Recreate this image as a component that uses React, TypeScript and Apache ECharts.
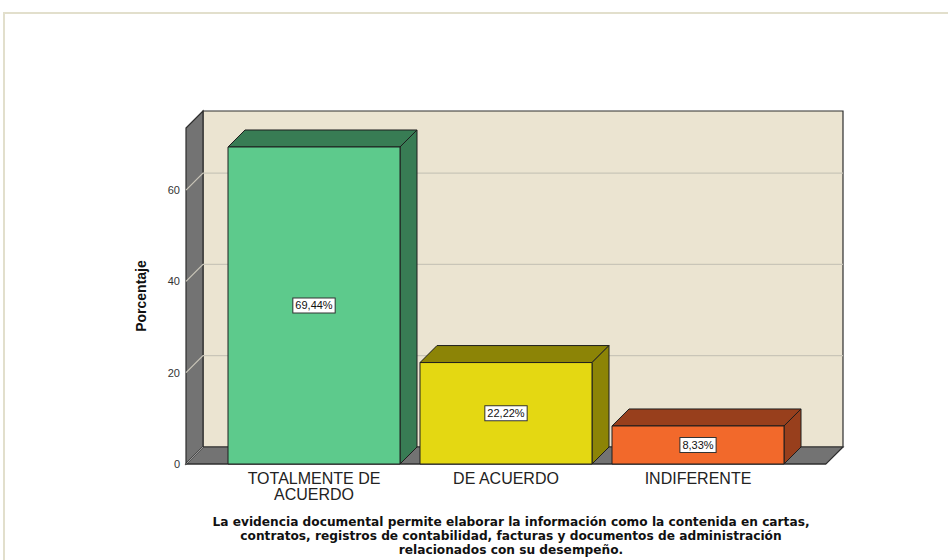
import React, { useEffect, useRef } from "react";
import * as echarts from "echarts";

const categories = ["TOTALMENTE DE\nACUERDO", "DE ACUERDO", "INDIFERENTE"];
const values = [69.44, 22.22, 8.33];
const frontColors = ["#5dca8c", "#e4d812", "#f2692b"];
const darkColors = ["#387c54", "#8c8406", "#983f1c"];
const yTicks = [0, 20, 40, 60];
const yMax = 73.6;
const titleText =
  "La evidencia documental permite elaborar la información como la contenida en cartas,\ncontratos, registros de contabilidad, facturas y documentos de administración\nrelacionados con su desempeño.";

const DEPTH = 17;
const EDGE = "#2e2e2e";

export default function App() {
  const ref = useRef<HTMLDivElement>(null);
  useEffect(() => {
    document.body.style.margin = "0";
    const chart = echarts.init(ref.current!, null, { renderer: "svg" });

    const wallsRender = (params: any, api: any) => {
      const band = api.size([1, 0])[0];
      const pad = band / 6;
      const c0 = api.coord([0, 0]);
      const c2 = api.coord([2, 0]);
      const lx = c0[0] - band / 2 - pad;
      const rx = c2[0] + band / 2 + pad;
      const y0 = c0[1];
      const yt = api.coord([0, yMax])[1];
      const d = DEPTH;
      const children: any[] = [];
      children.push({
        type: "polygon",
        shape: { points: [[lx + d, yt - d], [rx + d, yt - d], [rx + d, y0 - d], [lx + d, y0 - d]] },
        style: { fill: "#ebe4d1", stroke: EDGE, lineWidth: 1.2 },
      });
      children.push({
        type: "polygon",
        shape: { points: [[lx, yt], [lx + d, yt - d], [lx + d, y0 - d], [lx, y0]] },
        style: { fill: "#737373", stroke: EDGE, lineWidth: 1.2 },
      });
      children.push({
        type: "polygon",
        shape: { points: [[lx, y0], [lx + d, y0 - d], [rx + d, y0 - d], [rx, y0]] },
        style: { fill: "#737373", stroke: EDGE, lineWidth: 1.2 },
      });
      children.push({
        type: "line",
        shape: { x1: lx, y1: y0, x2: lx + d, y2: y0 - d },
        style: { stroke: "#9a9a9a", lineWidth: 1 },
      });
      yTicks.slice(1).forEach((t) => {
        const y = api.coord([0, t])[1];
        children.push({
          type: "polyline",
          shape: { points: [[lx, y], [lx + d, y - d], [rx + d, y - d]] },
          style: { stroke: "#c9c5b8", lineWidth: 1.2, fill: null },
        });
      });
      children.push({
        type: "line",
        shape: { x1: lx, y1: y0, x2: rx, y2: y0 },
        style: { stroke: EDGE, lineWidth: 1.2 },
      });
      return { type: "group", children };
    };

    const barRender = (params: any, api: any) => {
      const i = api.value(0);
      const v = api.value(1);
      const band = api.size([1, 0])[0];
      const w = (band * 172) / 192;
      const base = api.coord([i, 0]);
      const top = api.coord([i, v]);
      const x1 = base[0] - w / 2;
      const x2 = base[0] + w / 2;
      const y0 = base[1];
      const y1 = top[1];
      const d = DEPTH;
      const label = v.toFixed(2).replace(".", ",") + "%";
      return {
        type: "group",
        children: [
          {
            type: "polygon",
            shape: { points: [[x1, y1], [x1 + d, y1 - d], [x2 + d, y1 - d], [x2, y1]] },
            style: { fill: darkColors[i], stroke: "#1e1e1e", lineWidth: 1 },
          },
          {
            type: "polygon",
            shape: { points: [[x2, y1], [x2 + d, y1 - d], [x2 + d, y0 - d], [x2, y0]] },
            style: { fill: darkColors[i], stroke: "#1e1e1e", lineWidth: 1 },
          },
          {
            type: "rect",
            shape: { x: x1, y: y1, width: w, height: y0 - y1 },
            style: { fill: frontColors[i], stroke: "#1e1e1e", lineWidth: 1 },
          },
          {
            type: "text",
            x: base[0],
            y: (y0 + y1) / 2,
            style: {
              text: label,
              fill: "#111",
              font: "11px 'Liberation Sans', Arial, sans-serif",
              align: "center",
              verticalAlign: "middle",
              backgroundColor: "#ffffff",
              borderColor: "#333",
              borderWidth: 1,
              padding: [2, 2, 1, 2],
            },
          },
        ],
      };
    };

    chart.setOption({
      animation: false,
      backgroundColor: "#ffffff",
      textStyle: { fontFamily: "'Liberation Sans', Arial, sans-serif" },
      title: {
        text: titleText,
        left: 506,
        textAlign: "center",
        top: 510,
        textStyle: {
          fontSize: 12.2,
          fontWeight: "bold",
          color: "#111",
          lineHeight: 14,
          fontFamily: "'DejaVu Sans', sans-serif",
        },
      },
      graphic: [
        {
          type: "rect",
          shape: { x: 4, y: 13, width: 1000, height: 700 },
          style: { fill: null, stroke: "#e2dfcc", lineWidth: 2 },
          silent: true,
          z: -10,
        },
      ],
      grid: { left: 218, right: 154, top: 128, bottom: 96, containLabel: false },
      xAxis: {
        type: "category",
        data: categories,
        axisLine: { show: false },
        axisTick: { show: false },
        axisLabel: {
          interval: 0,
          fontSize: 16,
          color: "#222",
          lineHeight: 16,
          margin: 6,
        },
      },
      yAxis: {
        type: "value",
        min: 0,
        max: yMax,
        interval: 20,
        name: "Porcentaje",
        nameLocation: "middle",
        nameRotate: 90,
        nameGap: 70,
        nameTextStyle: { fontSize: 14, fontWeight: "bold", color: "#111" },
        axisLine: { show: false },
        axisTick: { show: false },
        splitLine: { show: false },
        axisLabel: { fontSize: 11, color: "#333", margin: 38, showMaxLabel: false },
      },
      series: [
        {
          type: "custom",
          renderItem: wallsRender,
          data: [[0, 0]],
          z: 1,
          silent: true,
        },
        {
          type: "custom",
          renderItem: barRender,
          data: values.map((v, i) => [i, v]),
          encode: { x: 0, y: 1 },
          z: 2,
          silent: true,
        },
      ],
    });
    return () => chart.dispose();
  }, []);
  return <div ref={ref} style={{ width: 948, height: 560 }} />;
}
